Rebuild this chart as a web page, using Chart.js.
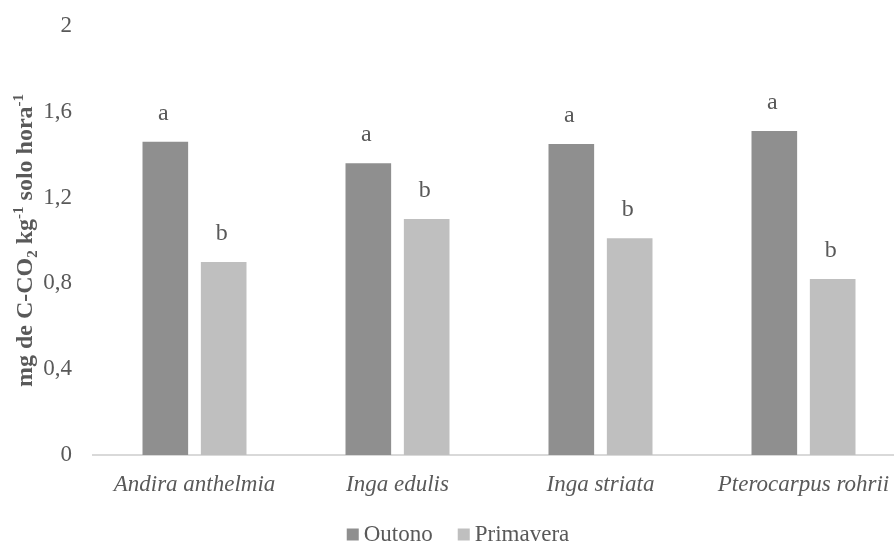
<!DOCTYPE html>
<html>
<head>
<meta charset="utf-8">
<script src="https://cdn.jsdelivr.net/npm/chart.js@4.4.1/dist/chart.umd.min.js"></script>
<style>
  html, body { margin: 0; padding: 0; background: #ffffff; overflow: hidden; }
  #wrap { width: 916px; height: 545px; }
</style>
</head>
<body>
<div id="wrap"><canvas id="c" width="916" height="545"></canvas></div>
<script>
// Soil respiration by species and season
const species = ['Andira anthelmia', 'Inga edulis', 'Inga striata', 'Pterocarpus rohrii'];
const seriesNames = ['Outono', 'Primavera'];
const outono = [1.46, 1.36, 1.45, 1.51];
const primavera = [0.90, 1.10, 1.01, 0.82];
const outonoLetters = ['a', 'a', 'a', 'a'];
const primaveraLetters = ['b', 'b', 'b', 'b'];
const yTickLabels = ['0', '0,4', '0,8', '1,2', '1,6', '2'];

const SERIF = "'Liberation Serif', 'Times New Roman', serif";
const TEXT = '#595959';
const COLORS = ['#8f8f8f', '#bfbfbf'];

// Significance letters above each bar
const letterPlugin = {
  id: 'letters',
  afterDatasetsDraw(chart) {
    const ctx = chart.ctx;
    const sets = [outonoLetters, primaveraLetters];
    ctx.save();
    ctx.font = '24px ' + SERIF;
    ctx.fillStyle = TEXT;
    ctx.textAlign = 'center';
    ctx.textBaseline = 'alphabetic';
    chart.data.datasets.forEach((ds, di) => {
      chart.getDatasetMeta(di).data.forEach((bar, i) => {
        ctx.fillText(sets[di][i], bar.x - 2, bar.y - 22);
      });
    });
    ctx.restore();
  }
};

// Rotated y-axis title with subscript / superscripts
const yTitlePlugin = {
  id: 'yTitle',
  afterDraw(chart) {
    const ctx = chart.ctx;
    const area = chart.chartArea;
    const parts = [
      { t: 'mg de C-CO', size: 24, dy: 0 },
      { t: '2', size: 15, dy: 5 },
      { t: ' kg', size: 24, dy: 0 },
      { t: '-1', size: 15, dy: -9 },
      { t: ' solo hora', size: 24, dy: 0 },
      { t: '-1', size: 15, dy: -9 }
    ];
    ctx.save();
    let total = 0;
    parts.forEach(p => {
      ctx.font = 'bold ' + p.size + 'px ' + SERIF;
      p.w = ctx.measureText(p.t).width;
      total += p.w;
    });
    ctx.translate(32, (area.top + area.bottom) / 2);
    ctx.rotate(-Math.PI / 2);
    ctx.fillStyle = TEXT;
    ctx.textBaseline = 'alphabetic';
    ctx.textAlign = 'left';
    let x = -total / 2;
    parts.forEach(p => {
      ctx.font = 'bold ' + p.size + 'px ' + SERIF;
      ctx.fillText(p.t, x, p.dy);
      x += p.w;
    });
    ctx.restore();
  }
};

// Legend row under the category labels
const legendPlugin = {
  id: 'bottomLegend',
  afterDraw(chart) {
    const ctx = chart.ctx;
    const box = 12, gapText = 5, gapItem = 25;
    ctx.save();
    ctx.font = '23px ' + SERIF;
    const items = chart.data.datasets.map(ds => ({
      label: ds.label, color: ds.backgroundColor, w: ctx.measureText(ds.label).width
    }));
    let total = 0;
    items.forEach((it, i) => { total += box + gapText + it.w + (i ? gapItem : 0); });
    let x = chart.width / 2 - total / 2;
    const baseY = 541;
    items.forEach((it, i) => {
      if (i) x += gapItem;
      ctx.fillStyle = it.color;
      ctx.fillRect(x, baseY - 12.5, box, box);
      x += box + gapText;
      ctx.fillStyle = TEXT;
      ctx.textBaseline = 'alphabetic';
      ctx.textAlign = 'left';
      ctx.fillText(it.label, x, baseY);
      x += it.w;
    });
    ctx.restore();
  }
};

new Chart(document.getElementById('c'), {
  type: 'bar',
  data: {
    labels: species,
    datasets: [
      { label: seriesNames[0], data: outono, backgroundColor: COLORS[0],
        categoryPercentage: 0.575, barPercentage: 0.782 },
      { label: seriesNames[1], data: primavera, backgroundColor: COLORS[1],
        categoryPercentage: 0.575, barPercentage: 0.782 }
    ]
  },
  options: {
    responsive: false,
    animation: false,
    devicePixelRatio: 1,
    layout: { padding: { top: 26, right: 11, left: 0, bottom: 0 } },
    plugins: { legend: { display: false }, tooltip: { enabled: false } },
    scales: {
      x: {
        grid: { display: false, drawTicks: false },
        border: { display: true, color: '#d9d9d9', width: 2 },
        ticks: {
          color: TEXT, padding: 16, maxRotation: 0, autoSkip: false,
          font: { family: SERIF, size: 23, style: 'italic' }
        },
        afterFit(axis) { axis.height = 90; }
      },
      y: {
        min: 0, max: 2,
        grid: { display: false, drawTicks: false },
        border: { display: false },
        ticks: {
          stepSize: 0.4, padding: 21, color: TEXT,
          font: { family: SERIF, size: 23 },
          callback: (v, i) => yTickLabels[i]
        },
        afterFit(axis) {
          axis.width = 93;
          axis.paddingTop = 0;
          axis.paddingBottom = 0;
        }
      }
    }
  },
  plugins: [letterPlugin, yTitlePlugin, legendPlugin]
});
</script>
</body>
</html>
